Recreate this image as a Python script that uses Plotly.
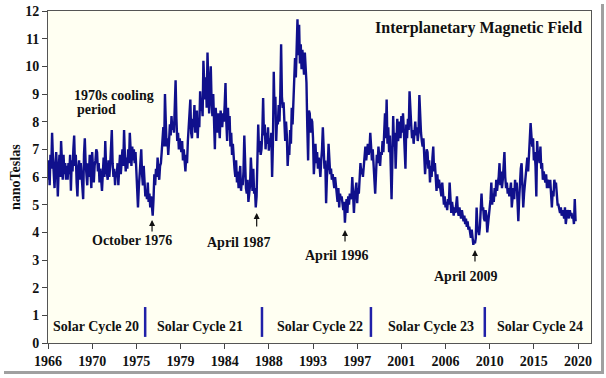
import plotly.graph_objects as go

# Monthly mean IMF magnitude (nT), Jan 1966 onward
imf_1960s = [5.9, 6.6, 5.7, 6.8, 6.3, 7.6, 6.7, 6.2, 5.6, 6.4, 6.9, 6.3,
             5.3, 6.2, 6.8, 6.0, 7.3, 6.6, 5.9, 6.8, 6.1, 6.5, 5.9, 6.4,
             5.9, 6.5, 6.1, 6.8, 5.5, 6.6, 6.2, 7.0, 7.5, 6.4, 6.8, 5.8,
             5.3, 6.3, 6.6, 5.9, 6.5, 6.1, 5.6, 5.2, 6.8, 7.4, 6.5, 6.1]
imf_1970s = [5.7, 6.5, 6.0, 6.8, 6.3, 5.6, 6.9, 6.2, 5.8, 6.4, 6.6, 7.0,
             6.9, 6.2, 6.5, 5.8, 6.3, 5.9, 5.5, 6.1, 6.7, 6.0, 7.3, 6.4,
             6.2, 5.9, 6.6, 6.0, 6.4, 6.9, 7.7, 6.5, 6.0, 6.3, 5.7, 6.2,
             6.0, 6.5, 5.7, 6.3, 6.8, 6.1, 6.6, 7.0, 6.4, 7.7, 6.8, 6.2,
             6.7, 6.3, 7.0, 6.5, 7.6, 6.9, 6.4, 7.1, 6.6, 7.0, 6.5, 6.9,
             6.2, 5.4, 4.9, 5.6, 6.2, 6.6, 7.0, 6.1, 5.7, 6.4, 5.8, 5.3,
             5.5, 5.2, 5.8, 5.1, 5.4, 4.9, 5.3, 4.8, 4.6, 5.2, 6.1, 5.7,
             6.3, 6.0, 6.7, 6.2, 5.9, 6.4, 6.5, 6.9, 7.4, 7.8, 7.1, 9.0,
             8.0, 7.1, 7.4, 6.8, 7.3, 7.9, 7.5, 8.2, 7.7, 8.0, 7.6, 8.4,
             9.5, 8.1, 7.3, 7.6, 7.0, 7.4, 7.2, 6.9, 7.3, 6.6, 7.0, 6.4]
imf_1980s = [6.2, 6.8, 6.5, 7.3, 7.9, 8.3, 8.8, 7.6, 7.4, 8.1, 7.8, 8.6,
             7.6, 7.9, 8.4, 7.4, 8.1, 7.8, 9.1, 8.4, 8.7, 8.2, 10.2, 9.4,
             8.8, 9.6, 8.5, 10.5, 9.2, 8.3, 9.4, 10.0, 8.7, 8.2, 9.0, 7.9,
             7.0, 8.5, 8.0, 7.6, 8.3, 7.9, 7.4, 8.4, 8.1, 7.8, 8.3, 8.0,
             8.6, 9.4, 8.0, 7.3, 8.5, 7.7, 8.2, 7.1, 7.6, 6.8, 7.2, 6.5,
             6.3, 6.0, 6.6, 5.8, 6.2, 5.6, 5.9, 6.4, 5.5, 5.9, 5.7, 6.2,
             7.5, 6.3, 5.6, 5.4, 5.9, 5.1, 5.4, 5.7, 6.7, 5.9, 5.5, 6.3,
             5.4, 5.6, 4.9, 5.3, 6.7, 7.9, 6.9, 7.3, 6.8, 7.0, 7.6, 8.85,
             7.5, 7.9, 7.0, 7.6, 7.2, 7.8, 6.95, 7.4, 7.1, 7.6, 6.0, 7.2,
             9.8, 8.3, 8.9, 7.3, 8.1, 7.9, 8.6, 8.0, 9.0, 10.8, 8.9, 8.5]
imf_1990s = [8.7, 8.2, 7.3, 8.0, 7.5, 6.4, 7.0, 6.8, 7.7, 7.2, 8.5, 7.9,
             8.6, 9.4, 10.3, 9.6, 10.8, 11.7, 10.4, 11.5, 10.1, 10.8, 9.9, 10.6,
             10.2, 9.7, 10.5, 9.9, 9.4, 7.8, 6.6, 8.4, 8.3, 7.6, 8.1, 8.0,
             7.4, 6.1, 7.0, 7.2, 6.5, 6.9, 6.3, 6.7, 6.4, 6.0, 6.6, 7.0,
             7.8, 6.9, 6.3, 6.6, 5.05, 6.0, 6.4, 7.2, 6.5, 6.1, 6.3, 5.9,
             6.1, 5.9, 5.6, 6.0, 5.7, 5.5, 5.1, 5.6, 4.9, 5.4, 5.2, 5.3,
             5.0, 4.8, 5.1, 4.35, 4.9, 5.2, 4.7, 5.3, 5.0, 5.4, 5.2, 5.3,
             6.0, 5.4, 4.7, 5.3, 5.5, 5.8, 5.05, 5.6, 5.4, 6.0, 6.5, 6.1,
             6.3, 6.0, 6.4, 6.8, 7.1, 6.6, 6.9, 7.2, 6.8, 7.0, 7.6, 7.2,
             6.6, 7.0, 6.5, 6.2, 5.4, 6.1, 6.8, 6.5, 7.1, 6.7, 6.4, 6.9]
imf_2000s = [6.8, 7.3, 6.9, 7.6, 8.3, 7.4, 8.8, 7.2, 7.8, 6.9, 7.5, 6.4,
             5.2, 6.6, 8.2, 7.1, 7.6, 6.3, 7.0, 8.1, 7.3, 7.6, 8.0, 7.4,
             8.2, 7.6, 8.3, 7.7, 7.1, 6.3, 7.9, 7.4, 8.1, 7.7, 9.1, 8.0,
             7.9, 7.4, 7.7, 7.2, 7.6, 8.0, 7.5, 7.8, 7.3, 7.6, 8.96, 7.9,
             7.6, 7.3, 7.1, 7.4, 6.8, 6.1, 6.6, 7.0, 6.9, 6.3, 6.6, 5.8,
             6.4, 6.0, 6.7, 7.1, 6.2, 6.5, 6.0, 5.5, 6.1, 5.6, 5.9, 5.7,
             5.5, 5.3, 5.8, 5.2, 5.0, 5.3, 4.9, 5.1, 4.8, 5.2, 5.0, 5.8,
             4.9, 4.7, 5.1, 4.8, 4.6, 4.9, 4.7, 5.0, 5.3, 4.8, 4.6, 4.9,
             4.7, 4.5, 4.8, 4.6, 4.4, 4.6, 4.3, 4.5, 4.2, 4.4, 4.1, 4.2,
             4.0, 3.8, 4.1, 3.7, 3.55, 3.7, 3.6, 3.8, 4.9, 4.2, 4.0, 3.9]
imf_2010s = [4.2, 4.7, 5.4, 4.8, 4.9, 4.5, 4.4, 4.8, 4.6, 4.0, 4.3, 4.5,
             4.8, 5.2, 5.8, 5.0, 5.4, 5.1, 5.6, 5.3, 5.9, 5.5, 5.8, 6.0,
             6.5, 5.7, 6.2, 5.6, 5.9, 6.3, 6.9, 6.0, 5.6, 5.8, 5.4, 5.6,
             5.3, 5.5, 5.8, 4.9, 5.4, 5.6, 5.2, 5.9, 5.5, 5.8, 5.1, 4.4,
             5.2, 5.9, 6.3, 6.5, 5.6, 4.9, 5.4, 5.8, 6.1, 6.5, 6.7, 6.2,
             6.9, 7.2, 7.95, 7.5, 7.1, 7.4, 6.6, 6.9, 6.4, 5.3, 7.3, 6.8,
             6.7, 6.5, 7.1, 6.3, 6.5, 5.9, 6.2, 6.0, 5.8, 6.1, 5.6, 5.9,
             5.8, 5.6, 5.9, 5.4, 4.9, 5.5, 5.3, 5.9, 5.7, 5.8, 5.2, 5.0,
             5.0, 4.8, 4.7, 4.9, 4.6, 4.8, 4.7, 4.5, 4.9, 4.3, 4.6, 4.8,
             4.7, 4.5, 4.8, 4.6, 4.7, 4.5, 4.6, 4.3, 5.2, 4.4]
start_year = 1966

x_tick_labels = ["1966", "1970", "1975", "1979", "1984", "1988", "1993",
                 "1997", "2001", "2006", "2010", "2015", "2020"]

cycle_names = ["Solar Cycle 20", "Solar Cycle 21", "Solar Cycle 22",
               "Solar Cycle 23", "Solar Cycle 24"]
cycle_label_x = [1970.9, 1981.5, 1993.7, 2005.0, 2016.1]
cycle_breaks = [1975.9, 1987.8, 1998.9, 2010.5]

minima_labels = ["October 1976", "April 1987", "April 1996", "April 2009"]
minima_x = [1976.6, 1987.26, 1996.26, 2009.5]

imf = imf_1960s + imf_1970s + imf_1980s + imf_1990s + imf_2000s + imf_2010s
dates = [start_year + i / 12 for i in range(len(imf))]

FONT = "Liberation Serif, Times New Roman, serif"
LINE = "#10108c"
TXT = "#111111"

fig = go.Figure()
fig.add_trace(go.Scatter(x=dates, y=imf, mode="lines",
                         line=dict(color=LINE, width=2.4),
                         hoverinfo="skip", showlegend=False))

tickvals = [1966 + 4.5 * k for k in range(len(x_tick_labels))]

fig.update_layout(
    width=606, height=378,
    margin=dict(l=48, r=15, t=11, b=35, autoexpand=False),
    paper_bgcolor="white",
    plot_bgcolor="#fffff2",
    font=dict(family=FONT, size=14, color=TXT),
    xaxis=dict(range=[1966, 2021.32], tickvals=tickvals, ticktext=x_tick_labels,
               ticks="outside", ticklen=5, tickcolor="#444", automargin=False,
               showline=True, linecolor="#555", linewidth=1, mirror=True,
               showgrid=False, zeroline=False,
               tickfont=dict(family=FONT, size=14, weight="bold", color=TXT)),
    yaxis=dict(range=[0, 12], dtick=1, ticks="outside", ticklen=5,
               tickcolor="#444", showline=True, linecolor="#555", linewidth=1,
               mirror=True, showgrid=False, zeroline=False, automargin=False,
               tickfont=dict(family=FONT, size=14, weight="bold", color=TXT)),
)

def px_x(px):
    return (px - 48) / 543

def px_y(py):
    return (343 - py) / 332

annotations = []
annotations.append(dict(xref="paper", yref="paper", x=px_x(15), y=px_y(177),
                        text="<b>nanoTeslas</b>", textangle=-90, showarrow=False,
                        font=dict(size=14), xanchor="center", yanchor="middle"))
annotations.append(dict(xref="paper", yref="paper", x=px_x(478), y=px_y(28),
                        text="<b>Interplanetary Magnetic Field</b>",
                        showarrow=False, font=dict(size=16),
                        xanchor="center", yanchor="middle"))
annotations.append(dict(xref="paper", yref="paper", x=px_x(72), y=px_y(96),
                        text="<b>1970s cooling</b>", showarrow=False,
                        xanchor="left", yanchor="middle", font=dict(size=14)))
annotations.append(dict(xref="paper", yref="paper", x=px_x(75), y=px_y(109),
                        text="<b>period</b>", showarrow=False,
                        xanchor="left", yanchor="middle", font=dict(size=14)))

text_pos = [(1974.56, 3.69), (1985.36, 3.65), (1995.44, 3.18), (2008.49, 2.42)]
tip_y = [4.45, 4.7, 4.08, 3.36]
arrow_len = [13, 15, 13, 13]
for lab, (tx, ty), ax_, ty2, al in zip(minima_labels, text_pos, minima_x, tip_y, arrow_len):
    annotations.append(dict(x=tx, y=ty, text=f"<b>{lab}</b>", showarrow=False,
                            xanchor="center", yanchor="middle", font=dict(size=14)))
    annotations.append(dict(x=ax_, y=ty2, text="", showarrow=True, ax=0, ay=al,
                            arrowhead=2, arrowsize=1, arrowwidth=1.2,
                            arrowcolor=TXT))

for name, cx in zip(cycle_names, cycle_label_x):
    annotations.append(dict(x=cx, y=0.6, text=f"<b>{name}</b>", showarrow=False,
                            xanchor="center", yanchor="middle", font=dict(size=14)))

shapes = []
for bx in cycle_breaks:
    shapes.append(dict(type="line", xref="x", yref="y", x0=bx, x1=bx,
                       y0=0.22, y1=1.3, line=dict(color="#2020a8", width=2.5)))

# drop shadow of the picture frame (right and bottom edges)
shapes.append(dict(type="rect", xref="paper", yref="paper", layer="below",
                   x0=px_x(601), x1=px_x(604), y0=px_y(4), y1=px_y(374),
                   line=dict(width=0), fillcolor="#a0a0a0"))
shapes.append(dict(type="rect", xref="paper", yref="paper", layer="below",
                   x0=px_x(4), x1=px_x(604), y0=px_y(371), y1=px_y(374),
                   line=dict(width=0), fillcolor="#a0a0a0"))

fig.update_layout(annotations=annotations, shapes=shapes)
fig.write_html("out.html", config={"displayModeBar": False},
               post_script="document.body.style.margin='0';")
